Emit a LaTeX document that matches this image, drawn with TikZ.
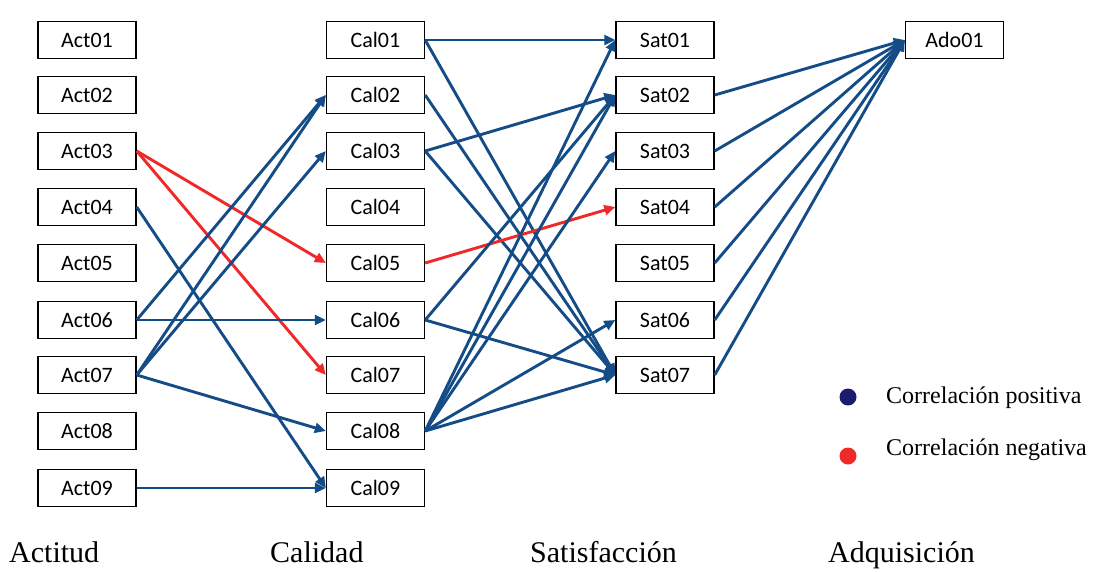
\documentclass[tikz,border=0pt]{standalone}
\usepackage{fontspec}
\setmainfont{Liberation Serif}
\newfontfamily\boxfont{Carlito}
\usetikzlibrary{arrows.meta}
\definecolor{pblue}{RGB}{20,76,135}
\definecolor{nred}{RGB}{240,40,40}
\definecolor{dotblue}{RGB}{28,28,110}
\begin{document}
\begin{tikzpicture}[x=1pt,y=-1pt,
  vbox/.style={draw=black,line width=1.4pt,fill=white,minimum width=98pt,minimum height=37pt,inner sep=0pt,font=\boxfont\fontsize{22}{24}\selectfont},
  posarr/.style={draw=pblue,line width=2.9pt,-{Triangle[length=11pt,width=10pt]}},
  negarr/.style={draw=nred,line width=2.9pt,-{Triangle[length=11pt,width=10pt]}},
  lbl/.style={font=\fontsize{30}{32}\selectfont,anchor=base west,inner sep=0pt},
  leg/.style={font=\fontsize{24}{26}\selectfont,anchor=west,inner sep=0pt}]
\useasboundingbox (0,0) rectangle (1097,571);
\foreach \i/\y in {1/40,2/95,3/151,4/207,5/263,6/320,7/375,8/431,9/488}{
  \node[vbox] (a\i) at (87,\y) {Act0\i};
  \node[vbox] (c\i) at (375.5,\y) {Cal0\i};
}
\foreach \i/\y in {1/40,2/95,3/151,4/207,5/263,6/320,7/375}{
  \node[vbox] (s\i) at (665,\y) {Sat0\i};
}
\node[vbox] (d1) at (954.5,40) {Ado01};
% Actitud -> Calidad
\draw[negarr] (a3.east) -- (c5.west);
\draw[negarr] (a3.east) -- (c7.west);
\draw[posarr] (a4.east) -- (c9.west);
\draw[posarr] (a6.east) -- (c2.west);
\draw[posarr] (a6.east) -- (c6.west);
\draw[posarr] (a7.east) -- (c2.west);
\draw[posarr] (a7.east) -- (c3.west);
\draw[posarr] (a7.east) -- (c8.west);
\draw[posarr] (a9.east) -- (c9.west);
% Calidad -> Satisfaccion
\draw[posarr] (c1.east) -- (s1.west);
\draw[posarr] (c1.east) -- (s7.west);
\draw[posarr] (c2.east) -- (s7.west);
\draw[posarr] (c3.east) -- (s2.west);
\draw[posarr] (c3.east) -- (s7.west);
\draw[negarr] (c5.east) -- (s4.west);
\draw[posarr] (c6.east) -- (s2.west);
\draw[posarr] (c6.east) -- (s7.west);
\draw[posarr] (c8.east) -- (s1.west);
\draw[posarr] (c8.east) -- (s2.west);
\draw[posarr] (c8.east) -- (s3.west);
\draw[posarr] (c8.east) -- (s6.west);
\draw[posarr] (c8.east) -- (s7.west);
% Satisfaccion -> Adquisicion
\foreach \i in {2,...,7}{\draw[posarr] (s\i.east) -- (d1.west);}
% legend
\node[circle,fill=dotblue,minimum size=17pt,inner sep=0pt] (ldot1) at (848,397) {};
\node[circle,fill=nred,minimum size=17pt,inner sep=0pt] (ldot2) at (848,456) {};
\node[leg] (lt1) at (886,398) {Correlación positiva};
\node[leg] (lt2) at (886,450) {Correlación negativa};
% column labels
\node[lbl] (l1) at (9,562) {Actitud};
\node[lbl] (l2) at (270,562) {Calidad};
\node[lbl] (l3) at (530,562) {Satisfacción};
\node[lbl] (l4) at (828,562) {Adquisición};
\end{tikzpicture}
\end{document}
